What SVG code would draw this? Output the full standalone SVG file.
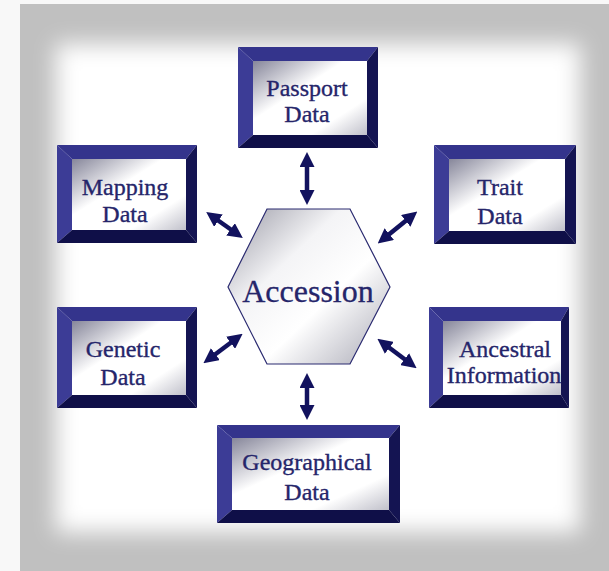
<svg xmlns="http://www.w3.org/2000/svg" width="609" height="571" viewBox="0 0 609 571">
<defs>
<filter id="soft" x="-20%" y="-20%" width="140%" height="140%"><feGaussianBlur stdDeviation="11"/></filter>
<linearGradient id="face" x1="0" y1="0" x2="1" y2="1">
<stop offset="0" stop-color="#86869a"/>
<stop offset="0.4" stop-color="#ffffff"/>
<stop offset="0.75" stop-color="#ffffff"/>
<stop offset="1" stop-color="#c0c0ca"/>
</linearGradient>
<linearGradient id="hex" x1="0" y1="0" x2="1" y2="1">
<stop offset="0" stop-color="#9a9aa6"/>
<stop offset="0.35" stop-color="#f4f4f6"/>
<stop offset="0.6" stop-color="#ffffff"/>
<stop offset="1" stop-color="#a8a8b4"/>
</linearGradient>
<marker id="ah" viewBox="0 0 10 10" refX="2" refY="5" markerWidth="15" markerHeight="15" markerUnits="userSpaceOnUse" orient="auto-start-reverse">
<path d="M0,0 L10,5 L0,10 Z" fill="#12125e"/>
</marker>
<style>
.t{fill:#34348c}
.l{fill:#3c3c96}
.r{fill:#141452}
.b{fill:#0f0f48}
.face{fill:url(#face)}
.lbl{font-family:"Liberation Serif","DejaVu Serif",serif;font-size:24px;fill:#25256a;stroke:#25256a;stroke-width:0.35;text-anchor:middle}
.arr{stroke:#12125e;stroke-width:4.5;fill:none;marker-start:url(#ah);marker-end:url(#ah)}
</style>
</defs>
<rect width="609" height="571" fill="#f8f8f8"/>
<rect x="20" y="4" width="589" height="567" fill="#c0c0c0"/>
<rect x="56" y="44" width="524" height="488" fill="#ffffff" filter="url(#soft)"/>

<g id="connectors">
<line class="arr" x1="307" y1="164" x2="307" y2="193"/>
<line class="arr" x1="307" y1="385" x2="307" y2="408"/>
<line class="arr" x1="216" y1="219" x2="233" y2="231"/>
<line class="arr" x1="408" y1="219" x2="387" y2="236"/>
<line class="arr" x1="213" y1="356" x2="233" y2="341"/>
<line class="arr" x1="387" y1="346" x2="407" y2="361"/>
</g>

<g id="accession">
<polygon points="267,209 350,209 390,287 350,364 267,364 228,287" fill="url(#hex)" stroke="#2a2a70" stroke-width="1.2"/>
<text x="308" y="302" font-family="Liberation Serif, DejaVu Serif, serif" font-size="32" fill="#25256a" stroke="#25256a" stroke-width="0.3" text-anchor="middle">Accession</text>
</g>

<g id="passport">
<polygon class="t" points="238,47 378,47 367,61 253,61"/>
<polygon class="l" points="238,47 253,61 253,135 238,148"/>
<polygon class="r" points="378,47 378,148 367,135 367,61"/>
<polygon class="b" points="238,148 253,135 367,135 378,148"/>
<rect class="face" x="253" y="61" width="114" height="74"/>
<text class="lbl" x="307" y="96">Passport</text>
<text class="lbl" x="307" y="122">Data</text>
</g>

<g id="mapping">
<polygon class="t" points="57,145 197,145 186,159 72,159"/>
<polygon class="l" points="57,145 72,159 72,230 57,243"/>
<polygon class="r" points="197,145 197,243 186,230 186,159"/>
<polygon class="b" points="57,243 72,230 186,230 197,243"/>
<rect class="face" x="72" y="159" width="114" height="71"/>
<text class="lbl" x="125" y="195">Mapping</text>
<text class="lbl" x="125" y="222">Data</text>
</g>

<g id="trait">
<polygon class="t" points="434,145 576,145 565,159 449,159"/>
<polygon class="l" points="434,145 449,159 449,231 434,244"/>
<polygon class="r" points="576,145 576,244 565,231 565,159"/>
<polygon class="b" points="434,244 449,231 565,231 576,244"/>
<rect class="face" x="449" y="159" width="116" height="72"/>
<text class="lbl" x="500" y="195">Trait</text>
<text class="lbl" x="500" y="224">Data</text>
</g>

<g id="genetic">
<polygon class="t" points="57,307 197,307 186,321 72,321"/>
<polygon class="l" points="57,307 72,321 72,395 57,408"/>
<polygon class="r" points="197,307 197,408 186,395 186,321"/>
<polygon class="b" points="57,408 72,395 186,395 197,408"/>
<rect class="face" x="72" y="321" width="114" height="74"/>
<text class="lbl" x="123" y="357">Genetic</text>
<text class="lbl" x="123" y="385">Data</text>
</g>

<g id="ancestral">
<polygon class="t" points="429,307 569,307 561,321 443,321"/>
<polygon class="l" points="429,307 443,321 443,395 429,408"/>
<polygon class="r" points="569,307 569,408 561,395 561,321"/>
<polygon class="b" points="429,408 443,395 561,395 569,408"/>
<rect class="face" x="443" y="321" width="118" height="74"/>
<text class="lbl" x="505" y="357">Ancestral</text>
<text class="lbl" x="504" y="383">Information</text>
</g>

<g id="geographical">
<polygon class="t" points="217,425 400,425 389,438 232,438"/>
<polygon class="l" points="217,425 232,438 232,510 217,523"/>
<polygon class="r" points="400,425 400,523 389,510 389,438"/>
<polygon class="b" points="217,523 232,510 389,510 400,523"/>
<rect class="face" x="232" y="438" width="157" height="72"/>
<text class="lbl" x="307" y="470">Geographical</text>
<text class="lbl" x="307" y="500">Data</text>
</g>
</svg>
